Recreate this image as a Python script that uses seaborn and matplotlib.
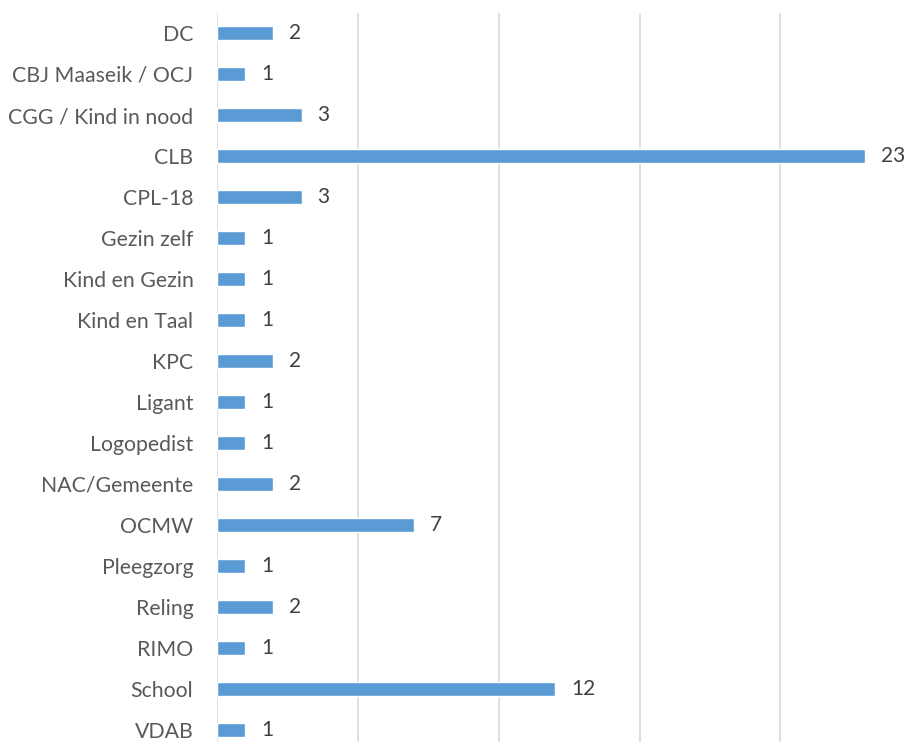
import pandas as pd
import numpy as np
import matplotlib
matplotlib.use("Agg")
import matplotlib.pyplot as plt
import seaborn as sns

categories = ["DC", "CBJ Maaseik / OCJ", "CGG / Kind in nood", "CLB", "CPL-18",
              "Gezin zelf", "Kind en Gezin", "Kind en Taal", "KPC", "Ligant",
              "Logopedist", "NAC/Gemeente", "OCMW", "Pleegzorg", "Reling",
              "RIMO", "School", "VDAB"]
counts = [2, 1, 3, 23, 3, 1, 1, 1, 2, 1, 1, 2, 7, 1, 2, 1, 12, 1]

df = pd.DataFrame({"bron": categories, "aantal": counts})

sns.set_style("white")
plt.rcParams["font.family"] = ["Lato", "DejaVu Sans"]

fig = plt.figure(figsize=(9.12, 7.42), dpi=100)
ax = fig.add_axes([217 / 912, 0, 1 - 217 / 912, 729.5 / 742])

sns.barplot(data=df, x="aantal", y="bron", orient="h", color="#5B9BD5",
            saturation=1, width=0.34, ax=ax)

for i, v in enumerate(counts):
    ax.text(v + 0.57, i, str(v), va="center", ha="left", fontsize=15, color="#404040")

ax.set_xlim(0, 695 / 28.17)
ax.set_ylim(-0.5 + 729.5 / 41, -0.5)
for g in [0, 5, 10, 15, 20]:
    ax.axvline(g, color="#D9D9D9", lw=1.2, zorder=0)
ax.set_xticks([])
ax.set_xlabel("")
ax.set_ylabel("")
ax.tick_params(axis="y", length=0, pad=17, labelsize=15.3, labelcolor="#595959")
for s in ax.spines.values():
    s.set_visible(False)

fig.savefig("out.png", dpi=100)
